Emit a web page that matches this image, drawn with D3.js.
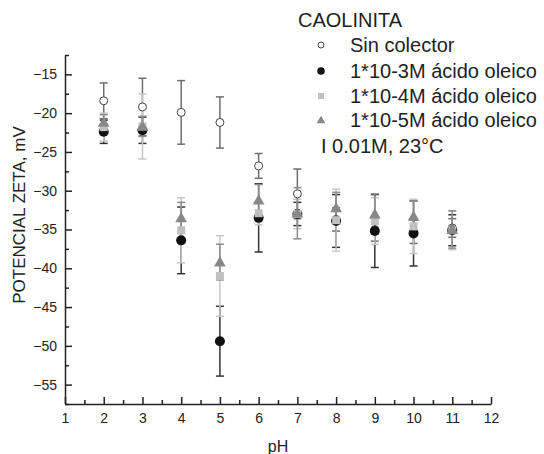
<!DOCTYPE html>
<html>
<head>
<meta charset="utf-8">
<script src="https://cdn.jsdelivr.net/npm/d3@7"></script>
<style>
  body { margin: 0; background: #fff; }
  text { font-family: "Liberation Sans", Arial, sans-serif; fill: #222; }
</style>
</head>
<body>
<script>
// pH values
var ph = [2, 3, 4, 5, 6, 7, 8, 9, 10, 11];

// zeta potential (mV) and error per series
var sin_colector   = [-18.4, -19.2, -19.9, -21.2, -26.8, -30.4, -33.7, -35.0, -35.3, -34.8];
var sin_err        = [2.3, 3.7, 4.1, 3.3, 1.6, 3.2, 1.5, 1.5, 1.5, 1.2];
var oleico_3       = [-22.4, -22.2, -36.4, -49.4, -33.5, -33.0, -33.9, -35.2, -35.5, -35.1];
var oleico_3_err   = [1.5, 1.7, 4.3, 4.5, 4.4, 1.5, 3.4, 4.7, 4.2, 2.0];
var oleico_4       = [-21.8, -21.7, -35.1, -41.0, -32.9, -33.0, -33.8, -33.9, -34.6, -35.1];
var oleico_4_err   = [1.8, 4.2, 4.2, 5.2, 1.5, 1.9, 4.0, 3.0, 3.5, 2.5];
var oleico_5       = [-21.2, -21.7, -33.5, -39.2, -31.2, -32.9, -32.2, -33.0, -33.3, -35.0];
var oleico_5_err   = [1.0, 1.3, 2.0, 2.3, 2.0, 3.3, 2.0, 2.6, 2.0, 2.4];

var x_ticks = [1, 2, 3, 4, 5, 6, 7, 8, 9, 10, 11, 12];
var y_ticks = [-15, -20, -25, -30, -35, -40, -45, -50, -55];

var legend_title = "CAOLINITA";
var legend_labels = ["Sin colector", "1*10-3M ácido oleico", "1*10-4M ácido oleico", "1*10-5M ácido oleico"];
var legend_note = "I 0.01M, 23°C";

var svg = d3.select("body").append("svg")
    .attr("width", 544)
    .attr("height", 454);

var xScale = d3.scaleLinear().domain([1, 12]).range([65, 491]);
var yScale = d3.scaleLinear().domain([-12.5, -57.5]).range([55, 404]);

// axes, ticks pointing inward
var yAxis = svg.append("g")
    .attr("transform", "translate(65,0)")
    .call(d3.axisLeft(yScale).tickValues(y_ticks).tickSizeInner(-7).tickSizeOuter(0).tickPadding(8));
svg.append("g")
    .attr("transform", "translate(65,0)")
    .call(d3.axisLeft(yScale).tickValues(d3.range(-12.5, -57.6, -5)).tickSize(-4).tickFormat(""))
    .select(".domain").remove();

var xAxis = svg.append("g")
    .attr("transform", "translate(0,404)")
    .call(d3.axisBottom(xScale).tickValues(x_ticks).tickSizeInner(-7).tickSizeOuter(0).tickPadding(9));
svg.append("g")
    .attr("transform", "translate(0,404)")
    .call(d3.axisBottom(xScale).tickValues(d3.range(1.5, 12, 1)).tickSize(-4).tickFormat(""))
    .select(".domain").remove();

svg.selectAll(".domain, .tick line").attr("stroke", "#222").attr("stroke-width", 1.5);
svg.selectAll(".tick text").attr("font-size", 14).attr("fill", "#222")
    .style("font-family", "'Liberation Sans', Arial, sans-serif");

// axis titles
svg.append("text")
    .attr("x", 278).attr("y", 452)
    .attr("text-anchor", "middle")
    .attr("font-size", 16)
    .text("pH");
svg.append("text")
    .attr("transform", "translate(25,215) rotate(-90)")
    .attr("text-anchor", "middle")
    .attr("font-size", 17)
    .text("POTENCIAL ZETA, mV");

// series definitions
var series = [
    { vals: sin_colector, err: sin_err, shape: "open", bar: "#6e6e6e" },
    { vals: oleico_3, err: oleico_3_err, shape: "black", bar: "#333333" },
    { vals: oleico_4, err: oleico_4_err, shape: "square", bar: "#c6c6c6" },
    { vals: oleico_5, err: oleico_5_err, shape: "triangle", bar: "#8c8c8c" }
];

function draw_marker(g, shape, size) {
    if (shape == "open") {
        g.append("circle").attr("r", 4 * size).attr("fill", "#fff")
            .attr("stroke", "#444").attr("stroke-width", 1);
    } else if (shape == "black") {
        g.append("circle").attr("r", 5 * size).attr("fill", "#111");
    } else if (shape == "square") {
        g.append("rect").attr("x", -4 * size).attr("y", -4 * size)
            .attr("width", 8 * size).attr("height", 8 * size).attr("fill", "#c0c0c0");
    } else {
        g.append("path")
            .attr("d", d3.symbol().type(d3.symbolTriangle).size(60 * size * size))
            .attr("transform", "translate(0," + (1 * size) + ")")
            .attr("fill", "#888888");
    }
}

var cap = 4;

series.forEach(function(s) {
    var grp = svg.append("g");
    var pts = ph.map(function(p, i) { return { x: p, y: s.vals[i], e: s.err[i] }; });

    var bars = grp.selectAll(".bar").data(pts).enter().append("g")
        .attr("stroke", s.bar).attr("stroke-width", 1.5);
    bars.append("line")
        .attr("x1", function(d) { return xScale(d.x); })
        .attr("x2", function(d) { return xScale(d.x); })
        .attr("y1", function(d) { return yScale(d.y + d.e); })
        .attr("y2", function(d) { return yScale(d.y - d.e); });
    bars.append("line")
        .attr("x1", function(d) { return xScale(d.x) - cap; })
        .attr("x2", function(d) { return xScale(d.x) + cap; })
        .attr("y1", function(d) { return yScale(d.y + d.e); })
        .attr("y2", function(d) { return yScale(d.y + d.e); });
    bars.append("line")
        .attr("x1", function(d) { return xScale(d.x) - cap; })
        .attr("x2", function(d) { return xScale(d.x) + cap; })
        .attr("y1", function(d) { return yScale(d.y - d.e); })
        .attr("y2", function(d) { return yScale(d.y - d.e); });
});

series.forEach(function(s) {
    var pts = ph.map(function(p, i) { return { x: p, y: s.vals[i] }; });
    svg.append("g").selectAll(".pt").data(pts).enter().append("g")
        .attr("transform", function(d) { return "translate(" + xScale(d.x) + "," + yScale(d.y) + ")"; })
        .each(function() { draw_marker(d3.select(this), s.shape, 1); });
});

// legend
var legend = svg.append("g");
legend.append("text")
    .attr("x", 298).attr("y", 20).attr("dy", "0.35em")
    .attr("font-size", 20)
    .text(legend_title);

var leg_y = [45, 71, 96, 120];
legend_labels.forEach(function(lab, i) {
    var m = legend.append("g").attr("transform", "translate(321," + leg_y[i] + ")");
    draw_marker(m, series[i].shape, 0.75);
    legend.append("text")
        .attr("x", 350).attr("y", leg_y[i]).attr("dy", "0.35em")
        .attr("font-size", 20)
        .text(lab);
});
legend.append("text")
    .attr("x", 321).attr("y", 146).attr("dy", "0.35em")
    .attr("font-size", 20)
    .text(legend_note);
</script>
</body>
</html>
